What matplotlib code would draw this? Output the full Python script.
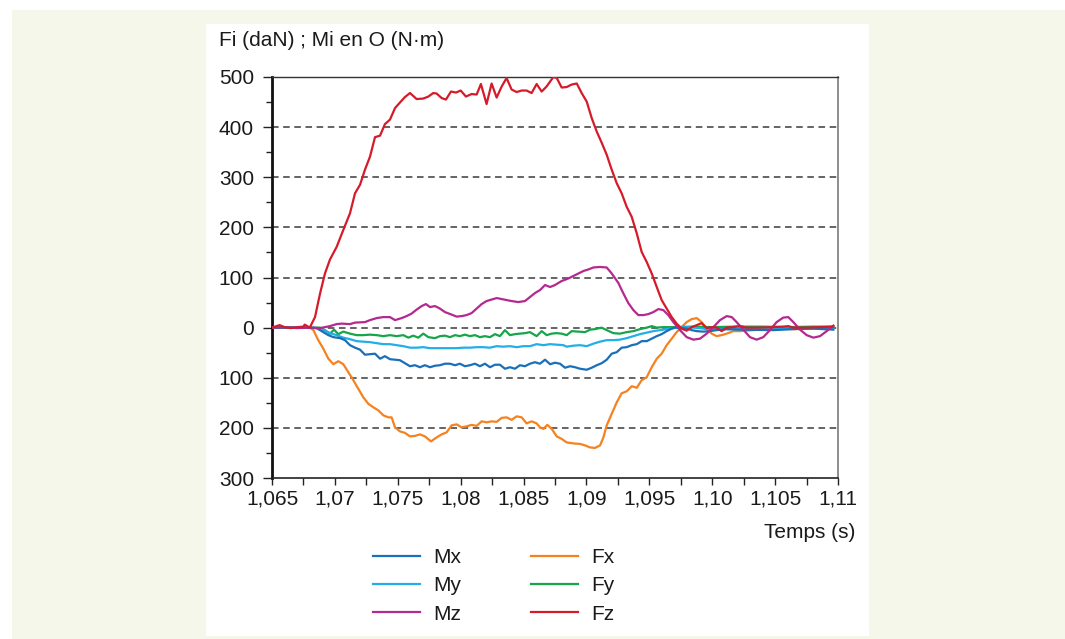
import matplotlib
matplotlib.use("Agg")
import matplotlib.pyplot as plt
from matplotlib.patches import Rectangle
from matplotlib.ticker import MultipleLocator, FuncFormatter, FixedLocator
from matplotlib.lines import Line2D

plt.rcParams['font.family'] = ['Liberation Sans', 'DejaVu Sans']

# ---------------- data ----------------
fz_t = [1.0650, 1.0656, 1.0660, 1.0665, 1.0670, 1.0675, 1.0676, 1.0678, 1.0680,
        1.06842, 1.06882, 1.06921, 1.06961, 1.07014, 1.07067, 1.07120, 1.07160, 1.07200, 1.07239,
        1.07279, 1.07319, 1.07359, 1.07398, 1.07438, 1.07478, 1.07517, 1.07557, 1.07597, 1.07650,
        1.07703, 1.07743, 1.07782, 1.07809, 1.07849, 1.07883, 1.07923, 1.07963, 1.08000, 1.08042,
        1.08087, 1.08127, 1.08161, 1.08206, 1.08246, 1.08286, 1.08326, 1.08365, 1.08405, 1.08445,
        1.08485, 1.08524, 1.08564, 1.08604, 1.08644, 1.08683, 1.08737, 1.08764, 1.08803, 1.08843,
        1.08883, 1.08923, 1.08962, 1.09002, 1.09042, 1.09082, 1.09121, 1.09161, 1.09201, 1.09241,
        1.09280, 1.09320, 1.09360, 1.09400, 1.09439, 1.09479, 1.09519, 1.09559, 1.09598, 1.09638,
        1.09678, 1.09717, 1.09757, 1.09797, 1.09837, 1.09877, 1.09916, 1.09956, 1.09996, 1.10035,
        1.10075, 1.10115, 1.10155, 1.10221, 1.10274, 1.10380, 1.10486, 1.10565, 1.10605, 1.10645,
        1.10751, 1.10857, 1.10963]
fz_v = [0, 5, 1, -1, 1, 2, 6, 3, 0,
        21, 68, 108, 136, 161, 195, 228, 268, 285, 315,
        341, 380, 383, 406, 415, 438, 449, 460, 468, 456,
        457, 461, 468, 467, 458, 455, 471, 469, 473, 461,
        466, 465, 486, 446, 487, 459, 481, 498, 475, 470,
        473, 473, 468, 486, 471, 481, 500, 498, 479, 480,
        485, 487, 468, 451, 418, 391, 369, 345, 315, 288,
        268, 241, 221, 188, 151, 131, 108, 81, 55, 38,
        21, 8, -2, -6, 1, 5, 9, -1, 1, 0,
        -7, 0, 1, 3, 0, 0, 1, 2, 3, 0,
        0, 1, 2]

mz_t = [1.0650, 1.0660, 1.0670, 1.0680, 1.06882, 1.06921, 1.06961, 1.07014, 1.07054, 1.07120,
        1.07160, 1.07239, 1.07279, 1.07332, 1.07385, 1.07438, 1.07478, 1.07531, 1.07570, 1.07610,
        1.07650, 1.07690, 1.07724, 1.07756, 1.07796, 1.07835, 1.07875, 1.07928, 1.07968, 1.08008,
        1.08047, 1.08087, 1.08127, 1.08167, 1.08206, 1.08246, 1.08286, 1.08326, 1.08365, 1.08405,
        1.08458, 1.08511, 1.08551, 1.08591, 1.08631, 1.08671, 1.08711, 1.08750, 1.08803, 1.08856,
        1.08896, 1.08936, 1.08976, 1.09015, 1.09055, 1.09108, 1.09161, 1.09201, 1.09254, 1.09294,
        1.09333, 1.09373, 1.09413, 1.09453, 1.09492, 1.09532, 1.09572, 1.09611, 1.09651, 1.09691,
        1.09744, 1.09797, 1.09850, 1.09903, 1.09956, 1.10009, 1.10062, 1.10115, 1.10155, 1.10194,
        1.10247, 1.10300, 1.10353, 1.10406, 1.10459, 1.10512, 1.10565, 1.10605, 1.10645, 1.10698,
        1.10751, 1.10804, 1.10857, 1.10910, 1.10963]
mz_v = [0, 1, -1, 0, -1, 1, 3, 7, 8, 7,
        10, 11, 15, 19, 21, 21, 15, 19, 23, 28,
        36, 43, 47, 41, 43, 38, 31, 26, 22, 23,
        25, 29, 38, 47, 53, 56, 59, 57, 55, 53,
        51, 53, 61, 69, 75, 85, 81, 85, 93, 98,
        103, 108, 113, 116, 120, 121, 120, 108, 89, 68,
        49, 35, 25, 25, 27, 31, 37, 35, 25, 11,
        -5, -19, -24, -22, -12, 1, 15, 23, 21, 11,
        -4, -19, -24, -19, -5, 11, 20, 21, 11, -4,
        -15, -20, -17, -7, 4]

fx_t = [1.0650, 1.0660, 1.0670, 1.0680, 1.06829, 1.06868, 1.06908, 1.06948, 1.06988, 1.07027,
        1.07067, 1.07107, 1.07147, 1.07186, 1.07226, 1.07266, 1.07306, 1.07345, 1.07385, 1.07425,
        1.07451, 1.07478, 1.07517, 1.07557, 1.07597, 1.07637, 1.07676, 1.07716, 1.07764, 1.07809,
        1.07849, 1.07888, 1.07928, 1.07968, 1.08008, 1.08047, 1.08087, 1.08127, 1.08167, 1.08206,
        1.08246, 1.08286, 1.08326, 1.08365, 1.08405, 1.08445, 1.08485, 1.08524, 1.08564, 1.08604,
        1.08631, 1.08658, 1.08689, 1.08724, 1.08764, 1.08803, 1.08843, 1.08896, 1.08949, 1.08989,
        1.09029, 1.09068, 1.09108, 1.09135, 1.09161, 1.09201, 1.09241, 1.09280, 1.09320, 1.09360,
        1.09400, 1.09439, 1.09479, 1.09519, 1.09559, 1.09598, 1.09638, 1.09678, 1.09717, 1.09757,
        1.09797, 1.09837, 1.09877, 1.09916, 1.09956, 1.09996, 1.10035, 1.10075, 1.10115, 1.10168,
        1.10221, 1.10327, 1.10433, 1.10539, 1.10645, 1.10751, 1.10963]
fx_v = [0, 0, 1, 0, -5, -25, -42, -62, -73, -67,
        -73, -89, -105, -122, -139, -152, -159, -165, -175, -179,
        -179, -199, -207, -210, -217, -216, -213, -217, -227, -219,
        -213, -209, -195, -193, -199, -197, -194, -196, -187, -189,
        -187, -188, -180, -179, -184, -177, -179, -191, -187, -191,
        -199, -202, -194, -202, -217, -222, -229, -231, -232, -235,
        -239, -240, -235, -219, -195, -172, -149, -131, -127, -117,
        -120, -105, -99, -79, -62, -52, -35, -22, -9, 1,
        11, 17, 19, 11, -2, -12, -17, -15, -12, -7,
        -7, -5, -3, -2, -3, -2, -1]

fy_t = [1.0650, 1.0670, 1.06882, 1.06921, 1.06961, 1.06993, 1.07027, 1.07067, 1.07120, 1.07173,
        1.07226, 1.07279, 1.07332, 1.07385, 1.07438, 1.07491, 1.07544, 1.07584, 1.07623, 1.07663,
        1.07703, 1.07743, 1.07796, 1.07835, 1.07875, 1.07915, 1.07955, 1.07994, 1.08034, 1.08074,
        1.08114, 1.08153, 1.08193, 1.08233, 1.08273, 1.08312, 1.08352, 1.08392, 1.08432, 1.08471,
        1.08511, 1.08551, 1.08604, 1.08644, 1.08684, 1.08723, 1.08763, 1.08803, 1.08843, 1.08883,
        1.08936, 1.08989, 1.09029, 1.09068, 1.09121, 1.09161, 1.09214, 1.09267, 1.09320, 1.09373,
        1.09426, 1.09479, 1.09519, 1.09559, 1.09611, 1.09700, 1.09850, 1.10000, 1.10200, 1.10400,
        1.10600, 1.10800, 1.10963]
fy_v = [0, 0, 0, -5, -12, -4, -13, -8, -12, -15,
        -15, -14, -15, -17, -15, -17, -15, -20, -16, -20,
        -12, -19, -21, -17, -16, -19, -15, -17, -14, -17,
        -15, -19, -17, -19, -13, -17, -5, -15, -13, -12,
        -11, -9, -17, -7, -15, -12, -11, -12, -15, -7,
        -8, -9, -4, -3, 0, -5, -11, -12, -9, -7,
        -3, 0, 3, 0, 1, 1, 2, 1, 2, 2,
        1, 2, 2]

my_t = [1.0650, 1.0680, 1.06855, 1.06908, 1.06961, 1.07014, 1.07067, 1.07120, 1.07173, 1.07226,
        1.07279, 1.07332, 1.07385, 1.07438, 1.07491, 1.07544, 1.07597, 1.07650, 1.07703, 1.07756,
        1.07809, 1.07862, 1.07915, 1.07968, 1.08021, 1.08074, 1.08127, 1.08180, 1.08233, 1.08286,
        1.08339, 1.08392, 1.08445, 1.08498, 1.08551, 1.08604, 1.08657, 1.08710, 1.08763, 1.08816,
        1.08843, 1.08896, 1.08949, 1.09002, 1.09055, 1.09108, 1.09161, 1.09214, 1.09267, 1.09320,
        1.09373, 1.09426, 1.09479, 1.09532, 1.09585, 1.09638, 1.09691, 1.09744, 1.09797, 1.09850,
        1.09903, 1.09956, 1.10009, 1.10115, 1.10221, 1.10327, 1.10486, 1.10645, 1.10963]
my_v = [0, 0, -1, -5, -11, -15, -20, -23, -27, -28,
        -29, -31, -33, -33, -35, -37, -40, -40, -39, -41,
        -41, -41, -41, -41, -40, -40, -39, -39, -40, -37,
        -38, -37, -39, -37, -37, -33, -35, -33, -34, -35,
        -38, -36, -35, -37, -32, -28, -25, -25, -24, -21,
        -17, -13, -10, -7, -5, -3, -1, 1, 1, 0,
        -1, -3, -3, -3, -3, -2, -2, -1, -1]

mx_t = [1.0650, 1.0680, 1.06855, 1.06908, 1.06948, 1.06988, 1.07041, 1.07080, 1.07120, 1.07160,
        1.07200, 1.07239, 1.07279, 1.07319, 1.07359, 1.07398, 1.07438, 1.07478, 1.07517, 1.07557,
        1.07597, 1.07637, 1.07676, 1.07716, 1.07756, 1.07796, 1.07835, 1.07875, 1.07915, 1.07955,
        1.07994, 1.08034, 1.08074, 1.08114, 1.08153, 1.08193, 1.08233, 1.08273, 1.08312, 1.08352,
        1.08392, 1.08432, 1.08471, 1.08511, 1.08551, 1.08591, 1.08630, 1.08671, 1.08711, 1.08750,
        1.08790, 1.08830, 1.08870, 1.08909, 1.08949, 1.09002, 1.09042, 1.09082, 1.09121, 1.09161,
        1.09201, 1.09241, 1.09280, 1.09320, 1.09360, 1.09400, 1.09439, 1.09479, 1.09519, 1.09559,
        1.09598, 1.09638, 1.09678, 1.09717, 1.09757, 1.09797, 1.09837, 1.09877, 1.09929, 1.09982,
        1.10035, 1.10115, 1.10221, 1.10486, 1.10645, 1.10804, 1.10963]
mx_v = [0, 0, -1, -9, -15, -19, -21, -25, -35, -40,
        -44, -54, -53, -52, -62, -57, -63, -64, -65, -71,
        -77, -75, -79, -75, -79, -76, -75, -72, -72, -75,
        -72, -77, -75, -72, -77, -72, -79, -74, -74, -82,
        -79, -82, -75, -77, -72, -69, -72, -64, -73, -70,
        -72, -80, -77, -79, -82, -84, -80, -75, -71, -64,
        -52, -49, -40, -39, -35, -33, -27, -27, -22, -17,
        -13, -7, -2, 1, -1, -2, -5, -7, -8, -7,
        -5, -3, -4, -5, -3, -2, -4]

series_names = ["Mx", "My", "Mz", "Fx", "Fy", "Fz"]
series_colors = {"Mx": "#1a6fb8", "My": "#22aee6", "Mz": "#b3298f",
                 "Fx": "#f5821f", "Fy": "#16a64a", "Fz": "#d51b2a"}
series_data = {"Mx": (mx_t, mx_v), "My": (my_t, my_v), "Mz": (mz_t, mz_v),
               "Fx": (fx_t, fx_v), "Fy": (fy_t, fy_v), "Fz": (fz_t, fz_v)}
draw_order = ["Fx", "Fy", "My", "Mx", "Mz", "Fz"]

y_ticks = [-300, -200, -100, 0, 100, 200, 300, 400, 500]
grid_vals = [-200, -100, 0, 100, 200, 300, 400]
x_ticks = [1.065, 1.07, 1.075, 1.08, 1.085, 1.09, 1.095, 1.10, 1.105, 1.11]
x_labels = ["1,065", "1,07", "1,075", "1,08", "1,085", "1,09", "1,095", "1,10", "1,105", "1,11"]

# ---------------- figure ----------------
W, H = 1065, 639
FS = 15
fig = plt.figure(figsize=(W / 100, H / 100), dpi=100, facecolor="white")
fig.patches.append(Rectangle((12 / W, 0), 1 - 12 / W, 1 - 10 / H, transform=fig.transFigure,
                             facecolor="#f4f7ea", edgecolor="none", zorder=-10))
fig.patches.append(Rectangle((206 / W, 1 - 636 / H), 663 / W, 612 / H, transform=fig.transFigure,
                             facecolor="white", edgecolor="none", zorder=-9))

ax = fig.add_axes([272 / W, 1 - 478 / H, 566 / W, 401 / H])
ax.set_facecolor("none")

for v in grid_vals:
    ax.axhline(v, color="#3a3a3a", lw=1.1, dashes=(4.3, 3.0), zorder=1)

for name in draw_order:
    t, v = series_data[name]
    ax.plot(t, v, color=series_colors[name], lw=1.6, zorder=3, solid_joinstyle="round")

ax.set_xlim(1.065, 1.11)
ax.set_ylim(-300, 500)

ax.yaxis.set_major_locator(FixedLocator(y_ticks))
ax.yaxis.set_minor_locator(MultipleLocator(50))
ax.yaxis.set_major_formatter(FuncFormatter(lambda v, p: f"{abs(int(round(v)))}"))
ax.set_xticks(x_ticks)
ax.set_xticklabels(x_labels)
ax.xaxis.set_minor_locator(MultipleLocator(0.0025))

ax.tick_params(axis="y", which="major", direction="out", length=6.5, width=1.0,
               labelsize=FS, pad=6.5, color="#222222", labelcolor="#1a1a1a")
ax.tick_params(axis="y", which="minor", direction="out", length=4, width=1.0, color="#222222")
ax.tick_params(axis="x", which="both", direction="out", length=5, width=1.0,
               labelsize=FS, pad=3, color="#222222", labelcolor="#1a1a1a")

ax.spines["left"].set_linewidth(2.0)
ax.spines["left"].set_color("#111111")
ax.spines["bottom"].set_linewidth(1.2)
ax.spines["bottom"].set_color("#222222")
ax.spines["top"].set_linewidth(1.0)
ax.spines["top"].set_color("#333333")
ax.spines["right"].set_linewidth(1.2)
ax.spines["right"].set_color("#7a7a7a")

fig.text(219 / W, 1 - 40 / H, "Fi (daN) ; Mi en O (N·m)", fontsize=FS, va="center",
         ha="left", color="#1a1a1a")
fig.text(855 / W, 1 - 532 / H, "Temps (s)", fontsize=FS, va="center", ha="right",
         color="#1a1a1a")

handles = [Line2D([0], [0], color=series_colors[n], lw=1.6) for n in series_names]
leg = fig.legend(handles, series_names, ncol=2, loc="upper left",
                 bbox_to_anchor=(373 / W, 1 - 548 / H), frameon=False, fontsize=FS,
                 handlelength=2.26, handletextpad=0.62, columnspacing=3.35,
                 labelspacing=0.45, borderpad=0, borderaxespad=0)
for txt in leg.get_texts():
    txt.set_color("#1a1a1a")

fig.savefig("out.png", dpi=100, facecolor="white")
